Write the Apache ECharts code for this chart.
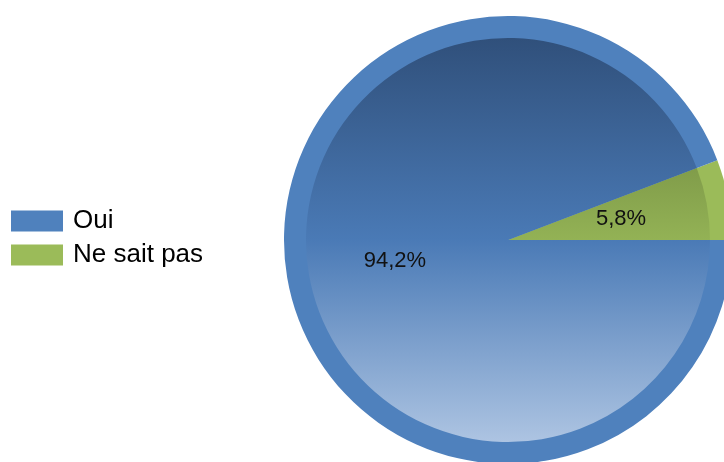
<!DOCTYPE html>
<html>
<head>
<meta charset="utf-8">
<script src="https://cdn.jsdelivr.net/npm/echarts@6/dist/echarts.min.js"></script>
<style>html,body{margin:0;padding:0;background:#fff;}#c{width:724px;height:462px;}</style>
</head>
<body>
<div id="c"></div>
<script>
// Data
const categories = ['Ne sait pas', 'Oui'];
const values = [5.8, 94.2];
const labels = ['5,8%', '94,2%'];
const legendOrder = ['Oui', 'Ne sait pas'];

const baseColors = { 'Oui': '#4f81bd', 'Ne sait pas': '#9bbb59' };
const shadeStops = {
  'Oui': ['#30507b', '#4a7ab6', '#adc4e2'],
  'Ne sait pas': ['#5f7536', '#93b255', '#c6d9a0']
};

const CX = 508, CY = 240, R = 224, RI = 202;

function grad(name) {
  const s = shadeStops[name];
  return new echarts.graphic.LinearGradient(0, CY - RI, 0, CY + RI, [
    { offset: 0, color: s[0] },
    { offset: 0.5, color: s[1] },
    { offset: 1, color: s[2] }
  ], true);
}

const chart = echarts.init(document.getElementById('c'), null, { renderer: 'canvas' });
const common = {
  type: 'pie',
  center: [CX, CY],
  startAngle: 0,
  clockwise: false,
  silent: true,
  animation: false,
  avoidLabelOverlap: false,
  labelLine: { show: false }
};
chart.setOption({
  backgroundColor: '#ffffff',
  legend: {
    orient: 'vertical',
    left: 11,
    top: 208,
    padding: 0,
    data: legendOrder,
    itemWidth: 52,
    itemHeight: 21,
    itemGap: 8,
    icon: 'rect',
    textStyle: { fontFamily: 'Liberation Sans, Arial, sans-serif', fontSize: 26, color: '#000', padding: [0, 0, 0, 5] }
  },
  series: [
    Object.assign({}, common, {
      name: 'outer',
      radius: [0, R],
      label: { show: false },
      data: categories.map((c, i) => ({ name: c, value: values[i], itemStyle: { color: baseColors[c] } }))
    }),
    Object.assign({}, common, {
      name: 'inner',
      radius: [0, RI],
      label: { show: false },
      data: categories.map((c, i) => ({ name: c, value: values[i], itemStyle: { color: grad(c) } }))
    }),
    Object.assign({}, common, {
      name: 'labels',
      radius: [0, R],
      itemStyle: { color: 'rgba(0,0,0,0)' },
      label: {
        show: true,
        position: 'inside',
        fontFamily: 'Liberation Sans, Arial, sans-serif',
        fontSize: 22,
        color: '#111',
        formatter: p => labels[p.dataIndex]
      },
      data: categories.map((c, i) => ({ name: c, value: values[i] }))
    })
  ]
});
</script>
</body>
</html>
